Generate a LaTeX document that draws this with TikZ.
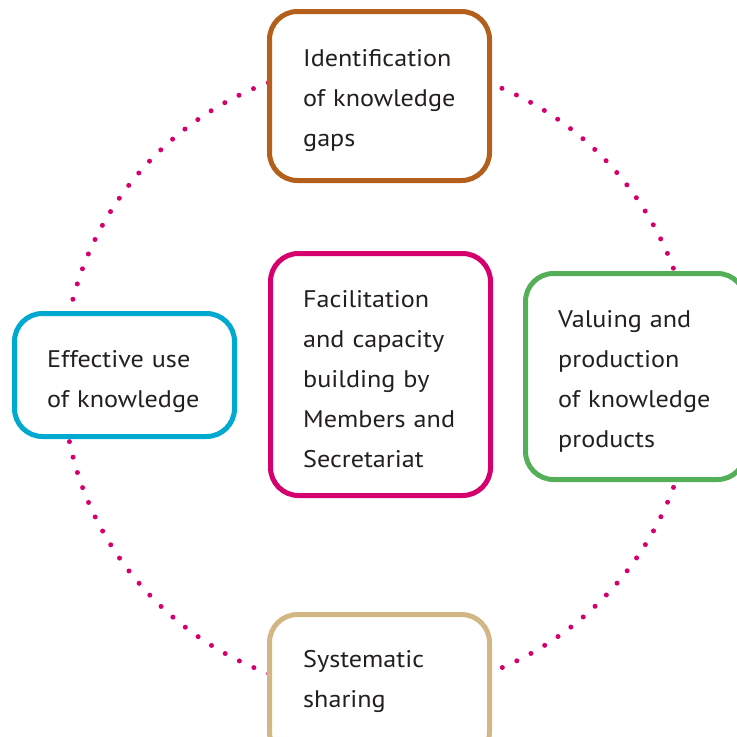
\documentclass[tikz,border=0pt]{standalone}
\usepackage{fontspec}
\setmainfont{PT Sans}[FakeStretch=1.09]
\definecolor{dotpink}{HTML}{D5006D}
\definecolor{cbrown}{HTML}{B45F1B}
\definecolor{cpink}{HTML}{D5006D}
\definecolor{ccyan}{HTML}{00A9CF}
\definecolor{cgreen}{HTML}{55AF59}
\definecolor{ctan}{HTML}{D2B784}
\definecolor{ctext}{HTML}{231F20}
\tikzset{
  cyclebox/.style={draw=#1, line width=5pt, fill=white, rounded corners=28pt,
    rectangle, minimum width=220pt, inner sep=0pt},
  boxtext/.style={anchor=base west, inner sep=0pt, text=ctext, align=left,
    text width=200pt, font=\fontsize{24}{40}\selectfont},
  dotring/.style={draw=dotpink, line width=5pt, line cap=round,
    dash pattern=on 0pt off 15.96pt}
}
\begin{document}
\begin{tikzpicture}[x=1pt,y=-1pt]
\useasboundingbox (0,0) rectangle (737,737);
\clip (0,0) rectangle (737,737);
\coordinate (ringc) at (378,378);
\draw[dotring] (ringc) circle[radius=315];
\node[cyclebox=cbrown, minimum height=169pt] (gaps) at (379.5,96) {};
\node[cyclebox=cpink, minimum height=242pt] (facil) at (380.5,374.5) {};
\node[cyclebox=ccyan, minimum height=123pt] (use) at (124.5,375) {};
\node[cyclebox=cgreen, minimum height=206pt] (valu) at (635.5,376.5) {};
\node[cyclebox=ctan, minimum height=145pt] (share) at (379.5,687) {};
\node[boxtext] (gapsT) at (303,66) {Identification\\of knowledge\\gaps};
\node[boxtext] (facilT) at (303,307) {Facilitation\\and capacity\\building by\\Members and\\Secretariat};
\node[boxtext] (useT) at (47,367) {Effective use\\of knowledge};
\node[boxtext] (valuT) at (558,327) {Valuing and\\production\\of knowledge\\products};
\node[boxtext] (shareT) at (303,667) {Systematic\\sharing};
\end{tikzpicture}
\end{document}
